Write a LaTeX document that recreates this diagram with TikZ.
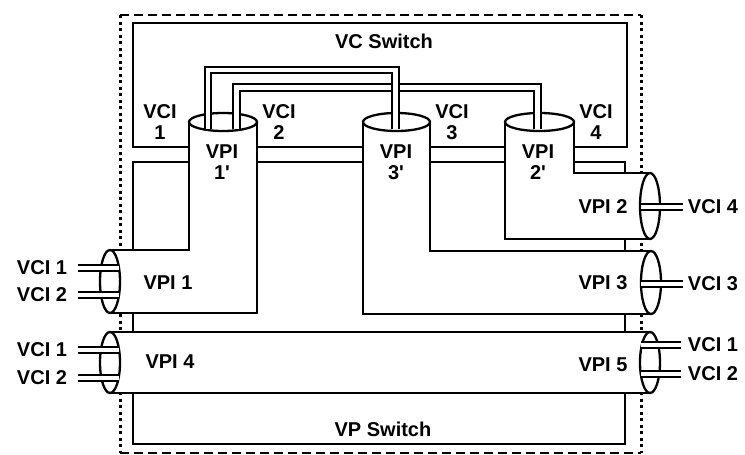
\documentclass[tikz,border=0pt]{standalone}
\usepackage{fontspec}
\setmainfont{Liberation Sans}
\begin{document}
\begin{tikzpicture}[x=1pt,y=-1pt,
  ln/.style={line width=2.3pt, line join=miter},
  capell/.style={draw, fill=white, line width=2.3pt},
  wire/.style={line width=2pt, double=white, double distance=4.8pt, line join=miter},
  lbl/.style={font=\fontsize{20}{21}\selectfont\bfseries, inner sep=0pt, align=center},
  dashh/.style={line width=2.8pt, dash pattern=on 9pt off 5pt},
  dashv/.style={line width=3pt, dash pattern=on 3pt off 3.5pt},
]
\useasboundingbox (0,0) rectangle (745,455);
% outer dashed boundary
\coordinate (o1) at (120,15);
\coordinate (o2) at (641,15);
\coordinate (o3) at (641,453);
\coordinate (o4) at (120,453);
\draw[dashh] (o1) -- (o2);
\draw[dashh] (o4) -- (o3);
\draw[dashv] (o1) -- (o4);
\draw[dashv] (o2) -- (o3);
% switches
\draw[ln] (133,23) rectangle (627,147);
\draw[ln] (133,162) rectangle (625,444);
% pipe VPI 1' / VPI 1
\fill[white] (189,122) -- (189,250) -- (110,250) -- (110,313) -- (257,313) -- (257,122) -- cycle;
\draw[ln] (189,122) -- (189,250) -- (110,250);
\draw[ln] (110,313) -- (257,313) -- (257,122);
\draw[capell] (223,122) ellipse [x radius=34, y radius=9];
\draw[capell] (110,281.5) ellipse [x radius=10, y radius=31.5];
% pipe VPI 3' / VPI 3
\fill[white] (363,122) -- (363,314) -- (651,314) -- (651,251) -- (430,251) -- (430,122) -- cycle;
\draw[ln] (363,122) -- (363,314) -- (651,314);
\draw[ln] (651,251) -- (430,251) -- (430,122);
\draw[capell] (396.5,122) ellipse [x radius=33.5, y radius=9];
\draw[capell] (651,282.5) ellipse [x radius=10, y radius=31.5];
% pipe VPI 2' / VPI 2
\fill[white] (505,122) -- (505,239) -- (650,239) -- (650,173) -- (574,173) -- (574,122) -- cycle;
\draw[ln] (505,122) -- (505,239) -- (650,239);
\draw[ln] (650,173) -- (574,173) -- (574,122);
\draw[capell] (539.5,122) ellipse [x radius=34.5, y radius=9];
\draw[capell] (650,206) ellipse [x radius=10, y radius=33];
% pipe VPI 4 / VPI 5
\fill[white] (110,332) rectangle (650,393);
\draw[ln] (110,332) -- (650,332);
\draw[ln] (110,393) -- (650,393);
\draw[capell] (110,362.5) ellipse [x radius=10, y radius=30.5];
\draw[capell] (650,362.5) ellipse [x radius=10, y radius=30.5];
% VC switch connections
\coordinate (c2a) at (236.5,128.5);
\coordinate (c2b) at (537.5,128.5);
\coordinate (c1a) at (208,128.5);
\coordinate (c1b) at (395.5,128.5);
\draw[wire] (c2a) -- (236.5,87.5) -- (537.5,87.5) -- (c2b);
\draw[wire] (c1a) -- (208,70) -- (395.5,70) -- (c1b);
% labels
\node[lbl] (vcsw) at (384,41) {VC Switch};
\node[lbl] (vpsw) at (383,429) {VP Switch};
\node[lbl] (tvci1) at (160,122) {VCI\\1};
\node[lbl] (tvci2) at (279,122) {VCI\\2};
\node[lbl] (tvci3) at (452,122) {VCI\\3};
\node[lbl] (tvci4) at (596,122) {VCI\\4};
\node[lbl] (tvpi1p) at (222,162) {VPI\\1\textquotesingle};
\node[lbl] (tvpi3p) at (396,162) {VPI\\3\textquotesingle};
\node[lbl] (tvpi2p) at (538,162) {VPI\\2\textquotesingle};
\node[lbl] (tvpi1) at (168,283) {VPI 1};
\node[lbl] (tvpi4) at (170,362) {VPI 4};
\node[lbl] (tvpi2) at (603,207) {VPI 2};
\node[lbl] (tvpi3) at (603,283) {VPI 3};
\node[lbl] (tvpi5) at (603,365) {VPI 5};
% external VCI labels
\node[lbl] (la) at (42,268) {VCI 1};
\node[lbl] (lb) at (42,295) {VCI 2};
\node[lbl] (lc) at (42,350) {VCI 1};
\node[lbl] (ld) at (42,378) {VCI 2};
\node[lbl] (ra) at (713,207) {VCI 4};
\node[lbl] (rb) at (713,284) {VCI 3};
\node[lbl] (rc) at (713,345) {VCI 1};
\node[lbl] (rd) at (713,374) {VCI 2};
% external wires
\draw[wire] (la.east -| 78,0) -- (la.east -| 119,0);
\draw[wire] (lb.east -| 78,0) -- (lb.east -| 119,0);
\draw[wire] (lc.east -| 78,0) -- (lc.east -| 119,0);
\draw[wire] (ld.east -| 78,0) -- (ld.east -| 119,0);
\draw[wire] (ra.west -| 683,0) -- (ra.west -| 641,0);
\draw[wire] (rb.west -| 683,0) -- (rb.west -| 641,0);
\draw[wire] (rc.west -| 681,0) -- (rc.west -| 641,0);
\draw[wire] (rd.west -| 681,0) -- (rd.west -| 641,0);
\end{tikzpicture}
\end{document}
